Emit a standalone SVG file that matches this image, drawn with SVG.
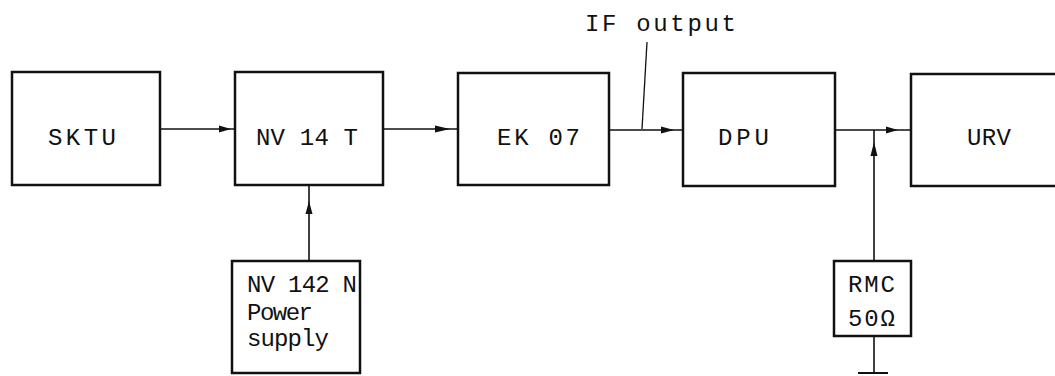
<svg xmlns="http://www.w3.org/2000/svg" width="1055" height="376" viewBox="0 0 1055 376">
<style>
.box{fill:#fff;stroke:#111;stroke-width:2.5}
.ln{fill:none;stroke:#111;stroke-width:1.6}
.ah{fill:#111}
text{font-family:"Liberation Mono","DejaVu Sans Mono",monospace;font-size:24px;fill:#111}
</style>
<rect width="1055" height="376" fill="#fff"/>
<g id="connectors">
<line class="ln" x1="160" y1="129" x2="235" y2="129"/>
<polygon class="ah" points="231,129 219,125.5 219,132.5"/>
<line class="ln" x1="383" y1="129" x2="458" y2="129"/>
<polygon class="ah" points="450,129 435,125.5 435,132.5"/>
<line class="ln" x1="609" y1="130" x2="683" y2="130"/>
<polygon class="ah" points="674,130 661,126.5 661,133.5"/>
<line class="ln" x1="835" y1="130" x2="911" y2="130"/>
<polygon class="ah" points="898,130 886,126.5 886,133.5"/>
<line class="ln" x1="309" y1="261" x2="309" y2="185"/>
<polygon class="ah" points="309,201 305.5,214 312.5,214"/>
<line class="ln" x1="874" y1="261" x2="874" y2="130"/>
<polygon class="ah" points="874,142 870.5,156 877.5,156"/>
<line class="ln" x1="874" y1="336" x2="874" y2="373"/>
<line class="ln" x1="858" y1="373" x2="888" y2="373" style="stroke-width:2"/>
<line class="ln" x1="647" y1="42" x2="642" y2="129" style="stroke-width:1.3"/>
</g>
<g id="if-label"><text x="585" y="31" textLength="151" lengthAdjust="spacing">IF output</text></g>
<g id="sktu"><rect class="box" x="12" y="72" width="148" height="113"/><text x="48" y="145" textLength="68" lengthAdjust="spacing">SKTU</text></g>
<g id="nv14t"><rect class="box" x="235" y="72" width="148" height="113"/><text x="256" y="145" textLength="102" lengthAdjust="spacing">NV 14 T</text></g>
<g id="ek07"><rect class="box" x="458" y="73" width="151" height="112"/><text x="497" y="145" textLength="83" lengthAdjust="spacing">EK 07</text></g>
<g id="dpu"><rect class="box" x="683" y="73" width="152" height="113"/><text x="718" y="145" textLength="51" lengthAdjust="spacing">DPU</text></g>
<g id="urv"><rect class="box" x="911" y="74" width="150" height="112"/><text x="967" y="145" textLength="44" lengthAdjust="spacing">URV</text></g>
<g id="nv142n"><rect class="box" x="232" y="261" width="128" height="112"/>
<text x="247" y="292" textLength="110" lengthAdjust="spacing">NV 142 N</text>
<text x="247" y="320" textLength="66" lengthAdjust="spacing">Power</text>
<text x="247" y="346" textLength="82" lengthAdjust="spacing">supply</text></g>
<g id="rmc"><rect class="box" x="834" y="261" width="77" height="75"/>
<text x="848" y="292" textLength="47" lengthAdjust="spacing">RMC</text>
<text x="848" y="326" textLength="47" lengthAdjust="spacing">50Ω</text></g>
</svg>
